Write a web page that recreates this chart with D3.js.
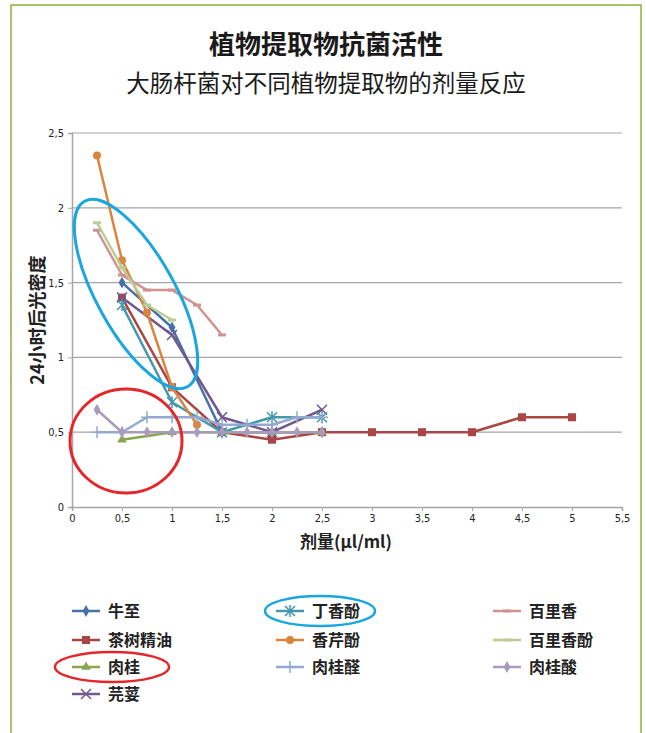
<!DOCTYPE html>
<html><head><meta charset="utf-8">
<script src="https://cdn.jsdelivr.net/npm/d3@7/dist/d3.min.js"></script>
<style>
body{margin:0;background:#fff;}
svg{display:block;}
.tick text{font-family:"Liberation Sans Narrow","DejaVu Sans Condensed",sans-serif;font-size:11px;fill:#222;}
</style></head><body>
<svg id="c" width="646" height="733"></svg>
<script>
const title = "植物提取物抗菌活性";
const subtitle = "大肠杆菌对不同植物提取物的剂量反应";
const xTitle = "剂量(μl/ml)";
const yTitle = "24小时后光密度";
const xTicks = [0,0.5,1,1.5,2,2.5,3,3.5,4,4.5,5,5.5];
const yTicks = [0,0.5,1,1.5,2,2.5];

const seriesNames = ["牛至","茶树精油","肉桂","芫荽","丁香酚","香芹酚","肉桂醛","百里香","百里香酚","肉桂酸"];
const seriesColors = ["#4572A7","#AA4643","#89A54E","#71588F","#4198AF","#DB843D","#93A9CF","#D19392","#B9CD96","#A99BBD"];
const seriesMarkers = ["diamond","square","triangle","x","asterisk","circle","plus","dash","dash","diamond"];

const oregano   = [[0.5,1.5],[1,1.2],[1.5,0.5],[2,0.5],[2.5,0.5]];
const teaTree   = [[0.5,1.4],[1,0.8],[1.5,0.5],[2,0.45],[2.5,0.5],[3,0.5],[3.5,0.5],[4,0.5],[4.5,0.6],[5,0.6]];
const cinnamon  = [[0.5,0.45],[1,0.5],[1.5,0.5],[2,0.5],[2.5,0.5]];
const coriander = [[0.5,1.4],[1,1.15],[1.5,0.6],[2,0.5],[2.5,0.65]];
const eugenol   = [[0.5,1.35],[1,0.7],[1.5,0.5],[2,0.6],[2.5,0.6]];
const carvacrol = [[0.25,2.35],[0.5,1.65],[0.75,1.3],[1,0.8],[1.25,0.55]];
const cinnamald = [[0.25,0.5],[0.5,0.5],[0.75,0.6],[1,0.6],[1.25,0.6],[1.5,0.55],[1.75,0.55],[2,0.55],[2.25,0.6],[2.5,0.6]];
const thyme     = [[0.25,1.85],[0.5,1.55],[0.75,1.45],[1,1.45],[1.25,1.35],[1.5,1.15]];
const thymol    = [[0.25,1.9],[0.5,1.6],[0.75,1.35],[1,1.25]];
const cinnAcid  = [[0.25,0.65],[0.5,0.5],[0.75,0.5],[1,0.5],[1.25,0.5],[1.5,0.5],[1.75,0.5],[2,0.5],[2.25,0.5],[2.5,0.5]];
const seriesValues = [oregano,teaTree,cinnamon,coriander,eugenol,carvacrol,cinnamald,thyme,thymol,cinnAcid];

const svg = d3.select("#c");
const cjk = '"Noto Sans CJK SC","Noto Sans",sans-serif';

// frame
svg.append("path").attr("d","M11,733 L11,5 L641,5 L641,733").attr("fill","none").attr("stroke","#8DB33A").attr("stroke-width",1.5);

svg.append("text").attr("x",326).attr("y",54).attr("text-anchor","middle")
  .attr("font-family",cjk).attr("font-weight","bold").attr("font-size",26).attr("fill","#1a1a1a").text(title);
svg.append("text").attr("x",326).attr("y",92).attr("text-anchor","middle")
  .attr("font-family",cjk).attr("font-size",23.5).attr("fill","#1a1a1a").text(subtitle);

const x = d3.scaleLinear().domain([0,5.5]).range([72,622]);
const y = d3.scaleLinear().domain([0,2.5]).range([507,133]);

// grid
svg.append("g").selectAll("line").data(yTicks.filter(d=>d>0)).join("line")
  .attr("x1",72).attr("x2",622).attr("y1",d=>y(d)).attr("y2",d=>y(d))
  .attr("stroke","#a6a6a6").attr("stroke-width",1.2);

const fmt = d => String(d).replace(".",",");
const xa = svg.append("g").attr("transform","translate(0,507)")
  .call(d3.axisBottom(x).tickValues(xTicks).tickFormat(fmt).tickSize(4).tickPadding(3));
const ya = svg.append("g").attr("transform","translate(72,0)")
  .call(d3.axisLeft(y).tickValues(yTicks).tickFormat(fmt).tickSize(4).tickPadding(4));
[xa,ya].forEach(a=>{a.select(".domain").attr("stroke","#a6a6a6").attr("stroke-width",1.5);
  a.selectAll(".tick line").attr("stroke","#a6a6a6");});

svg.append("text").attr("x",346).attr("y",548).attr("text-anchor","middle")
  .attr("font-family",cjk).attr("font-weight","bold").attr("font-size",17).attr("fill","#222").text(xTitle);
svg.append("text").attr("transform","translate(44,320) rotate(-90)").attr("text-anchor","middle")
  .attr("font-family",cjk).attr("font-weight","bold").attr("font-size",18).attr("fill","#222").text(yTitle);

function marker(g, type, color, s){
  s = s||1;
  if(type==="diamond") g.append("path").attr("d",d3.symbol(d3.symbolDiamond,40*s)()).attr("fill",color);
  else if(type==="square") g.append("rect").attr("x",-4*s).attr("y",-4*s).attr("width",8*s).attr("height",8*s).attr("fill",color);
  else if(type==="triangle") g.append("path").attr("d",d3.symbol(d3.symbolTriangle,40*s)()).attr("fill",color);
  else if(type==="circle") g.append("circle").attr("r",4*s).attr("fill",color);
  else if(type==="x") g.append("path").attr("d","M-5,-5L5,5M-5,5L5,-5").attr("stroke",color).attr("stroke-width",1.5);
  else if(type==="asterisk") g.append("path").attr("d","M-5,-5L5,5M-5,5L5,-5M0,-6L0,6").attr("stroke",color).attr("stroke-width",1.5);
  else if(type==="plus") g.append("path").attr("d","M-6,0L6,0M0,-6L0,6").attr("stroke",color).attr("stroke-width",1.5);
  else if(type==="dash") g.append("path").attr("d","M-4,0L4,0").attr("stroke",color).attr("stroke-width",3);
}

const line = d3.line().x(d=>x(d[0])).y(d=>y(d[1]));
seriesValues.forEach((vals,i)=>{
  const g = svg.append("g");
  g.append("path").attr("d",line(vals)).attr("fill","none").attr("stroke",seriesColors[i]).attr("stroke-width",2.5).attr("stroke-linejoin","round");
  vals.forEach(v=>{
    const m = g.append("g").attr("transform",`translate(${x(v[0])},${y(v[1])})`);
    marker(m, seriesMarkers[i], seriesColors[i]);
  });
});

// annotations
svg.append("ellipse").attr("cx",0).attr("cy",0).attr("rx",39).attr("ry",106)
  .attr("transform","translate(136,294) rotate(-29)").attr("fill","none").attr("stroke","#1AA7E0").attr("stroke-width",3);
svg.append("ellipse").attr("cx",126).attr("cy",441).attr("rx",56).attr("ry",52)
  .attr("fill","none").attr("stroke","#E5262B").attr("stroke-width",3);

// legend
const colX = [72,276,493];
const rowY = [611,640,667,694];
const legendPos = [[0,0],[0,1],[0,2],[0,3],[1,0],[1,1],[1,2],[2,0],[2,1],[2,2]];
seriesNames.forEach((name,i)=>{
  const [c,r] = legendPos[i];
  const g = svg.append("g").attr("transform",`translate(${colX[c]},${rowY[r]})`);
  g.append("line").attr("x1",0).attr("x2",28).attr("stroke",seriesColors[i]).attr("stroke-width",2.5);
  const m = g.append("g").attr("transform","translate(14,0)");
  marker(m, seriesMarkers[i], seriesColors[i]);
  g.append("text").attr("x",36).attr("y",6).attr("font-family",cjk).attr("font-weight","bold")
    .attr("font-size",16).attr("fill","#222").text(name);
});
svg.append("ellipse").attr("cx",320).attr("cy",611).attr("rx",55).attr("ry",15)
  .attr("fill","none").attr("stroke","#1AA7E0").attr("stroke-width",2.5);
svg.append("ellipse").attr("cx",112).attr("cy",667).attr("rx",57).attr("ry",15)
  .attr("fill","none").attr("stroke","#E5262B").attr("stroke-width",2.5);
</script></body></html>
